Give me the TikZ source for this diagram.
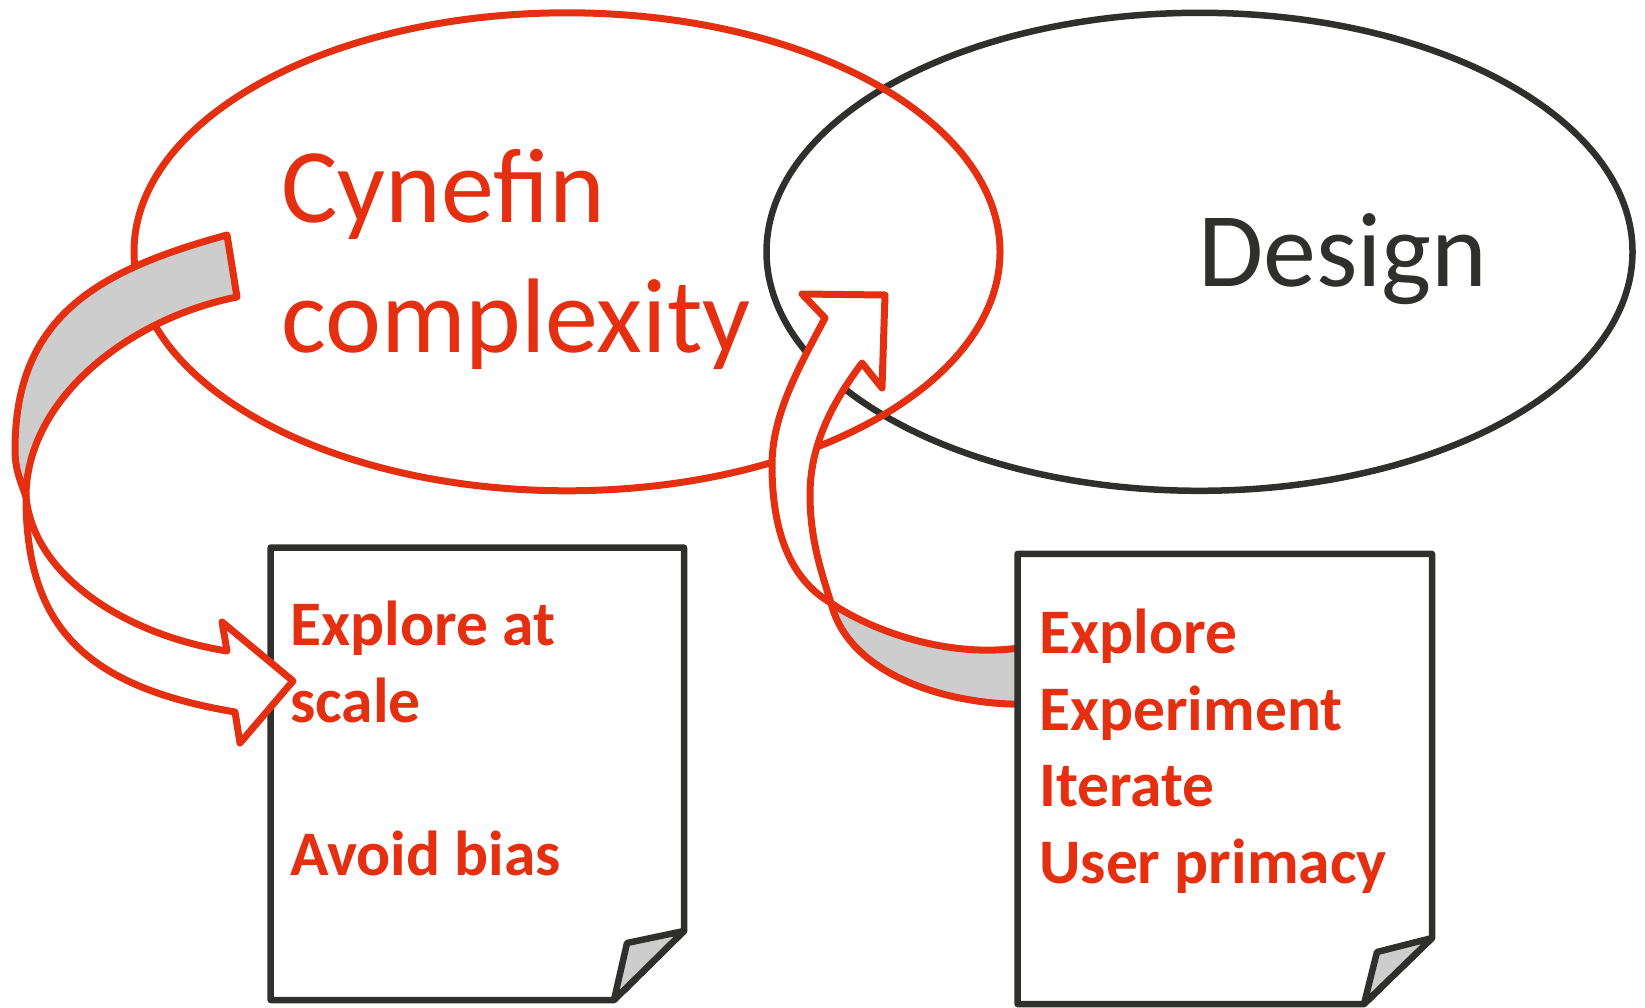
\documentclass[tikz,border=0pt]{standalone}
\usepackage{fontspec}
\setmainfont{Carlito}
\usetikzlibrary{shapes.geometric}
\definecolor{cred}{RGB}{228,47,17}
\definecolor{cdark}{RGB}{47,47,45}
\definecolor{cgray}{RGB}{205,205,205}
\begin{document}
\begin{tikzpicture}[x=1pt,y=-1pt,line join=round,
  redline/.style={draw=cred,line width=7pt},
  darkline/.style={draw=cdark,line width=6.5pt},
  oval/.style={ellipse,inner sep=0pt,minimum width=866pt,minimum height=478pt},
  bigtext/.style={font=\fontsize{106}{125}\selectfont,anchor=base west,inner sep=0pt},
  notetext/.style={text=cred,font=\fontsize{63.5}{76}\selectfont\bfseries,anchor=base west,inner sep=0pt},
  notebox/.style={darkline,fill=white},
  fold/.style={darkline,fill=cgray},
  arrowwhite/.style={redline,fill=white},
  arrowgray/.style={redline,fill=cgray}]
\useasboundingbox (0,0) rectangle (1645,1008);

% ellipses
\node[oval,darkline] (design) at (1199.5,251.8) {};
\node[oval,redline] (cynefin) at (567,251.8) {};

\node[bigtext,text=cred] (t1) at (281,223) {Cynefin};
\node[bigtext,text=cred] (t2) at (281,352) {complexity};
\node[bigtext,text=cdark] (t3) at (1198,287) {Design};

% left note
\coordinate (LN1) at (270.6,547.6);
\coordinate (LN2) at (684,547.6);
\coordinate (LN3) at (684,931);
\coordinate (LN4) at (614,1000);
\coordinate (LN5) at (270.6,1000);
\coordinate (LNf) at (627,943);
\draw[notebox] (LN1) -- (LN2) -- (LN3) -- (LN4) -- (LN5) -- cycle;
\draw[fold] (LN3) -- (LNf) -- (LN4) -- cycle;
\node[notetext] (l1) at (290,645) {Explore at};
\node[notetext] (l2) at (290,722) {scale};
\node[notetext] (l3) at (290,875) {Avoid bias};

% left curved arrow
\coordinate (T1) at (227,235);
\coordinate (T2) at (237,297);
\coordinate (L1) at (15,450);
\coordinate (P1) at (26,497);
\coordinate (N1) at (227,651);
\coordinate (B1) at (222,622);
\coordinate (TP1) at (293,681);
\coordinate (B2) at (240,743);
\coordinate (N2) at (235,712);
\filldraw[arrowgray]
  (T1) .. controls (95,271) and (15,318) .. (L1)
       .. controls (15,470) and (21,482) .. (P1)
       .. controls (26,400) and (127,319) .. (T2) -- cycle;
\filldraw[arrowwhite]
  (P1) .. controls (34,577) and (127,635) .. (N1)
  -- (B1) -- (TP1) -- (B2) -- (N2)
       .. controls (85,686.5) and (26,627) .. (P1) -- cycle;

% right curved arrow
\coordinate (NL) at (825,318);
\coordinate (BL) at (802,294);
\coordinate (TP2) at (885,295);
\coordinate (BR) at (882,388);
\coordinate (NR) at (862,363);
\coordinate (Lr) at (772,465);
\coordinate (Li) at (810,495);
\coordinate (P2) at (831,603);
\coordinate (Ta) at (1025,647);
\coordinate (Tb) at (1025,704);
\filldraw[arrowwhite]
  (P2) .. controls (795,582) and (772,540) .. (Lr)
       .. controls (772,415) and (798.5,368) .. (NL)
  -- (BL) -- (TP2) -- (BR) -- (NR)
       .. controls (832,403) and (810,445) .. (Li)
       .. controls (810,540) and (822,574) .. (P2) -- cycle;
\filldraw[arrowgray]
  (P2) .. controls (870,630) and (950,660) .. (Ta)
  -- (Tb) .. controls (960,706) and (850,680) .. (P2) -- cycle;

% right note
\coordinate (RN1) at (1017.5,553.9);
\coordinate (RN2) at (1432,553.9);
\coordinate (RN3) at (1432,938);
\coordinate (RN4) at (1364,1004);
\coordinate (RN5) at (1017.5,1004);
\coordinate (RNf) at (1377,952);
\draw[notebox] (RN1) -- (RN2) -- (RN3) -- (RN4) -- (RN5) -- cycle;
\draw[fold] (RN3) -- (RNf) -- (RN4) -- cycle;
\node[notetext] (r1) at (1039,653) {Explore};
\node[notetext] (r2) at (1039,730) {Experiment};
\node[notetext] (r3) at (1039,806) {Iterate};
\node[notetext] (r4) at (1039,883) {User primacy};
\end{tikzpicture}
\end{document}
